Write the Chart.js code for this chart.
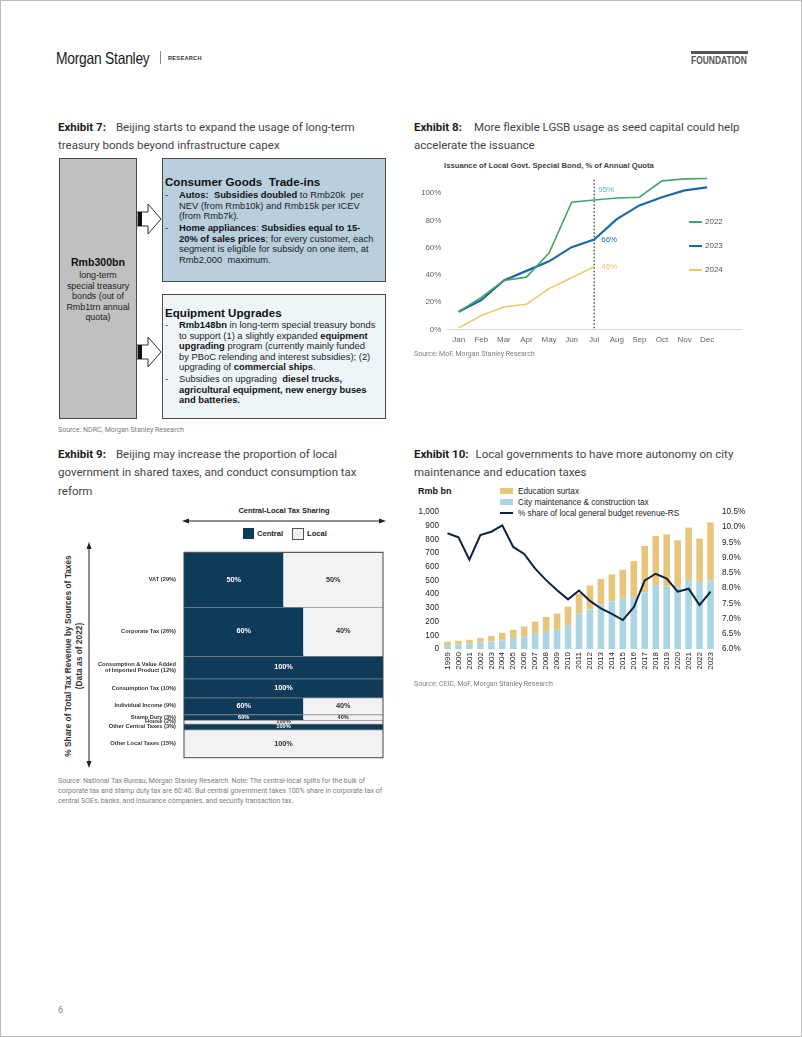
<!DOCTYPE html>
<html>
<head>
<meta charset="utf-8">
<script src="https://cdn.jsdelivr.net/npm/chart.js@4.4.1/dist/chart.umd.min.js"></script>
<style>
html, body { margin: 0; padding: 0; background: #fff; }
#page { position: relative; width: 802px; height: 1037px; border: 1px solid #bdbdbd; box-sizing: border-box; overflow: hidden; font-family: Arial, "Liberation Sans", sans-serif; color: #222; }
.abs { position: absolute; }
.title { font-family: Roboto, "Liberation Sans", sans-serif; font-size: 11.5px; line-height: 18.8px; color: #444; white-space: nowrap; }
.title b { color: #1d1d1d; font-weight: 700; }
.src { font-family: Roboto, "Liberation Sans", sans-serif; font-size: 7px; line-height: 9.8px; color: #7d7d7d; white-space: nowrap; }
.box { position: absolute; box-sizing: border-box; border: 1.5px solid #4a4a4a; }
.boxhead { font-weight: 700; font-size: 11.6px; line-height: 13px; color: #111; white-space: nowrap; }
.bul { position: relative; padding-left: 14px; font-size: 9.4px; line-height: 10.5px; color: #222; white-space: nowrap; }
.bul .dash { position: absolute; left: 0; top: 0; }
.bul b { color: #111; }
.legtxt { font-size: 8px; color: #555; }
.narrow { transform-origin: 0 0; white-space: nowrap; }
canvas { position: absolute; }
</style>
</head>
<body>
<div id="page">
  <!-- header -->
  <div class="abs narrow" style="left:55px;top:48px;font-size:16.5px;letter-spacing:-0.3px;color:#1a1a1a;transform:scaleX(0.84);">Morgan Stanley</div>
  <div class="abs" style="left:159px;top:50px;width:1px;height:13px;background:#888;"></div>
  <div class="abs" style="left:167px;top:54px;font-size:5.6px;font-weight:700;letter-spacing:0.3px;color:#333;">RESEARCH</div>
  <div class="abs" style="left:690px;top:50px;width:57px;height:2.5px;background:#555;"></div>
  <div class="abs narrow" style="left:690px;top:54px;font-weight:700;font-size:10.2px;color:#555;transform:scaleX(0.83);">FOUNDATION</div>

  <!-- Exhibit 7 -->
  <div class="abs title" style="left:57px;top:116.5px;"><b style="margin-right:10px;">Exhibit 7:</b>Beijing starts to expand the usage of long-term<br>treasury bonds beyond infrastructure capex</div>
  <div class="box" style="left:58px;top:157px;width:78px;height:261px;background:#c0c0c0;"></div>
  <div class="abs" style="left:58px;top:255px;width:78px;text-align:center;font-size:10.6px;font-weight:700;color:#111;line-height:13px;">Rmb300bn</div>
  <div class="abs" style="left:58px;top:269px;width:78px;text-align:center;font-size:8.9px;line-height:10.5px;color:#222;">long-term<br>special treasury<br>bonds (out of<br>Rmb1trn annual<br>quota)</div>
  <svg class="abs" style="left:134px;top:195px;" width="30" height="180">
    <polygon points="2,16 13,16 13,8 26,23 13,38 13,30 2,30" fill="#fff" stroke="#333" stroke-width="1"/>
    <rect x="3" y="16" width="4" height="14" fill="#111"/>
    <polygon points="2,149 13,149 13,141 26,156 13,171 13,163 2,163" fill="#fff" stroke="#333" stroke-width="1"/>
    <rect x="3" y="149" width="4" height="14" fill="#111"/>
  </svg>
  <div class="box" style="left:161px;top:157px;width:224px;height:124px;background:#b9cfde;padding:16px 0 0 2px;">
    <div class="boxhead">Consumer Goods&nbsp; Trade-ins</div>
    <div class="bul" style="margin-top:2px;"><span class="dash">-</span>
      <b>Autos:&nbsp; Subsidies doubled</b> to Rmb20k&nbsp; per<br>NEV (from Rmb10k) and Rmb15k per ICEV<br>(from Rmb7k).</div>
    <div class="bul" style="margin-top:1.5px;"><span class="dash">-</span>
      <b>Home appliances</b>: <b>Subsidies equal to 15-</b><br><b>20% of sales prices</b>; for every customer, each<br>segment is eligible for subsidy on one item, at<br>Rmb2,000&nbsp; maximum.</div>
  </div>
  <div class="box" style="left:161px;top:293px;width:224px;height:125px;background:#eef5f9;padding:11px 0 0 2px;">
    <div class="boxhead">Equipment Upgrades</div>
    <div class="bul" style="margin-top:1px;"><span class="dash">-</span>
      <b>Rmb148bn</b> in long-term special treasury bonds<br>to support (1) a slightly expanded <b>equipment</b><br><b>upgrading</b> program (currently mainly funded<br>by PBoC relending and interest subsidies); (2)<br>upgrading of <b>commercial ships</b>.</div>
    <div class="bul" style="margin-top:1.5px;"><span class="dash">-</span>
      Subsidies on upgrading&nbsp; <b>diesel trucks,</b><br><b>agricultural equipment, new energy buses</b><br><b>and batteries.</b></div>
  </div>
  <div class="abs src" style="left:57px;top:425px;">Source: NDRC, Morgan Stanley Research</div>

  <!-- Exhibit 8 -->
  <div class="abs title" style="left:413px;top:116.5px;"><b style="margin-right:12px;">Exhibit 8:</b>More flexible LGSB usage as seed capital could help<br>accelerate the issuance</div>
  <div class="abs" style="left:443px;top:160px;font-size:7.7px;font-weight:700;color:#444;white-space:nowrap;">Issuance of Local Govt. Special Bond, % of Annual Quota</div>
  <canvas id="chart8" width="345" height="185" style="left:405px;top:165px;"></canvas>
  <div class="abs" style="left:688px;top:220px;width:13px;height:1.6px;background:#45a466;"></div>
  <div class="abs legtxt" style="left:704px;top:215.5px;">2022</div>
  <div class="abs" style="left:688px;top:244px;width:13px;height:2.2px;background:#1c69a6;"></div>
  <div class="abs legtxt" style="left:704px;top:239.5px;">2023</div>
  <div class="abs" style="left:688px;top:268px;width:13px;height:1.6px;background:#f0c86c;"></div>
  <div class="abs legtxt" style="left:704px;top:263.5px;">2024</div>
  <div class="abs src" style="left:413px;top:349px;">Source: MoF, Morgan Stanley Research</div>

  <!-- Exhibit 9 -->
  <div class="abs title" style="left:57px;top:443.5px;"><b style="margin-right:10px;">Exhibit 9:</b>Beijing may increase the proportion of local<br>government in shared taxes, and conduct consumption tax<br>reform</div>
  <div class="abs" style="left:183px;top:505px;width:200px;text-align:center;font-size:7.4px;font-weight:700;color:#222;">Central-Local Tax Sharing</div>
  <svg class="abs" style="left:180px;top:515px;" width="206" height="10">
    <line x1="5" y1="5" x2="201" y2="5" stroke="#222" stroke-width="1"/>
    <polygon points="1,5 8,2.5 8,7.5" fill="#222"/>
    <polygon points="205,5 198,2.5 198,7.5" fill="#222"/>
  </svg>
  <div class="abs" style="left:242px;top:527px;width:11px;height:11px;background:#0e3b5a;"></div>
  <div class="abs" style="left:256px;top:527.5px;font-size:7.6px;font-weight:700;color:#222;">Central</div>
  <div class="abs" style="left:291px;top:527px;width:10px;height:10px;background:#f2f2f2;border:0.8px solid #555;"></div>
  <div class="abs" style="left:306px;top:527.5px;font-size:7.6px;font-weight:700;color:#222;">Local</div>
  <svg class="abs" style="left:83px;top:540px;" width="10" height="228">
    <line x1="5" y1="6" x2="5" y2="222" stroke="#222" stroke-width="1"/>
    <polygon points="5,1 2.5,8 7.5,8" fill="#222"/>
    <polygon points="5,227 2.5,220 7.5,220" fill="#222"/>
  </svg>
  <div class="abs" style="left:72px;top:655px;width:0;height:0;">
    <div style="position:absolute;left:0;top:0;transform:translate(-50%,-50%) rotate(-90deg);white-space:nowrap;text-align:center;font-size:8.4px;font-weight:700;color:#333;line-height:10.5px;">% Share of Total Tax Revenue by Sources of Taxes<br>(Data as of 2022)</div>
  </div>
  <canvas id="chart9" width="340" height="228" style="left:50px;top:540px;"></canvas>
  <div class="abs src" style="left:57px;top:776px;">Source: National Tax Bureau, Morgan Stanley Research. Note: The central-local splits for the bulk of<br>corporate tax and stamp duty tax are 60:40. But central government takes 100% share in corporate tax of<br>central SOEs, banks, and insurance companies, and security transaction tax.</div>

  <!-- Exhibit 10 -->
  <div class="abs title" style="left:413px;top:443.5px;"><b style="margin-right:7px;">Exhibit 10:</b>Local governments to have more autonomy on city<br>maintenance and education taxes</div>
  <div class="abs" style="left:417px;top:485px;font-size:9px;font-weight:700;color:#111;">Rmb bn</div>
  <div class="abs" style="left:499px;top:487px;width:13px;height:6px;background:#e9c57c;"></div>
  <div class="abs" style="left:517px;top:485.5px;font-size:8.2px;color:#222;">Education surtax</div>
  <div class="abs" style="left:499px;top:498px;width:13px;height:6px;background:#a9d6e2;"></div>
  <div class="abs" style="left:517px;top:496.5px;font-size:8.2px;color:#222;">City maintenance &amp; construction tax</div>
  <div class="abs" style="left:499px;top:510.5px;width:13px;height:2px;background:#0c2340;"></div>
  <div class="abs" style="left:517px;top:507.5px;font-size:8.2px;color:#222;">% share of local general budget revenue-RS</div>
  <canvas id="chart10" width="346" height="184" style="left:405px;top:500px;"></canvas>
  <div class="abs src" style="left:413px;top:679px;">Source: CEIC, MoF, Morgan Stanley Research</div>

  <div class="abs" style="left:57px;top:1004px;font-size:9px;color:#888;font-family:Roboto,sans-serif;">6</div>
</div>

<script>
// Exhibit 8 - issuance of local govt special bonds, % of annual quota
const months = ['Jan', 'Feb', 'Mar', 'Apr', 'May', 'Jun', 'Jul', 'Aug', 'Sep', 'Oct', 'Nov', 'Dec', ''];
const quota2022 = [13, 23.5, 36, 38.4, 56, 93.3, 95, 96.4, 97, 109, 110.5, 110.8];
const quota2023 = [13, 21.6, 36, 43, 50, 60.4, 66, 81, 91, 97, 102, 104.3];
const quota2024 = [1.2, 10.3, 16.5, 18.5, 30, 38, 46];
const quotaTicks = [0, 20, 40, 60, 80, 100];
const markIndex = 6; // Jul

// Exhibit 9 - central/local tax sharing
const taxNames = ['VAT (29%)', 'Corporate Tax (26%)', ['Consumption & Value Added', 'of Imported Product (12%)'],
    'Consumption Tax (10%)', 'Individual Income (9%)', 'Stamp Duty (3%)', 'House (2%)',
    'Other Central Taxes (3%)', 'Other Local Taxes (15%)'];
const taxShares = [29, 26, 12, 10, 9, 3, 2, 3, 15];
const centralSplit = [50, 60, 100, 100, 60, 60, 0, 100, 0];

// Exhibit 10 - city maintenance & education taxes
const years = ['1999', '2000', '2001', '2002', '2003', '2004', '2005', '2006', '2007', '2008', '2009', '2010', '2011',
    '2012', '2013', '2014', '2015', '2016', '2017', '2018', '2019', '2020', '2021', '2022', '2023'];
const cityTax = [29, 31, 39, 48, 55, 63, 80, 92, 113, 125, 140, 173, 258, 289, 325, 347, 369, 381, 414, 463, 455, 450, 501, 489, 499];
const eduSurtax = [24, 29, 28, 32, 39, 55, 60, 72, 87, 109, 118, 135, 144, 174, 186, 198, 209, 260, 338, 361, 381, 343, 385, 316, 424];
const localShare = [9.80, 9.67, 8.93, 9.74, 9.85, 10.06, 9.35, 9.12, 8.64, 8.26, 7.93, 7.63, 7.92, 7.58, 7.33, 7.15, 6.95, 7.37, 8.25, 8.47, 8.31, 7.88, 7.98, 7.44, 7.88];

Chart.defaults.font.family = 'Arial, "Liberation Sans", sans-serif';
Chart.defaults.animation = false;
Chart.defaults.plugins.legend.display = false;
Chart.defaults.plugins.tooltip.enabled = false;

// ---------- Exhibit 8 ----------
const markColors = ['#5aaed8', '#1c69a6', '#efc46a'];
const markOffsets = [[4, -10], [7, 0], [7, 0]];

const julMarker = {
    id: 'julMarker',
    beforeDatasetsDraw(chart) {
        const {ctx, chartArea, scales: {x}} = chart;
        const px = x.getPixelForValue(markIndex);
        ctx.save();
        ctx.strokeStyle = '#555';
        ctx.lineWidth = 1.5;
        ctx.setLineDash([1.5, 2]);
        ctx.beginPath();
        ctx.moveTo(px, chartArea.top + 3);
        ctx.lineTo(px, chartArea.bottom);
        ctx.stroke();
        ctx.restore();
    },
    afterDatasetsDraw(chart) {
        const {ctx} = chart;
        ctx.save();
        ctx.font = '8px Arial, "Liberation Sans", sans-serif';
        ctx.textAlign = 'left';
        ctx.textBaseline = 'middle';
        chart.data.datasets.forEach((ds, i) => {
            const pt = chart.getDatasetMeta(i).data[markIndex];
            if (!pt) return;
            ctx.fillStyle = markColors[i];
            ctx.fillText(Math.round(ds.data[markIndex]) + '%', pt.x + markOffsets[i][0], pt.y + markOffsets[i][1]);
        });
        ctx.restore();
    }
};

new Chart(document.getElementById('chart8'), {
    type: 'line',
    data: {
        labels: months,
        datasets: [{
            label: '2022', data: quota2022, borderColor: '#45a466', borderWidth: 1.6, pointRadius: 0, tension: 0
        }, {
            label: '2023', data: quota2023, borderColor: '#1c69a6', borderWidth: 2.2, pointRadius: 0, tension: 0
        }, {
            label: '2024', data: quota2024, borderColor: '#f0c86c', borderWidth: 1.6, pointRadius: 0, tension: 0
        }]
    },
    options: {
        responsive: false,
        events: [],
        layout: {padding: {top: 8, right: 10, bottom: 0, left: 0}},
        scales: {
            x: {
                offset: true,
                grid: {display: false, drawTicks: false},
                border: {color: '#d9d9d9', width: 1},
                ticks: {color: '#666', font: {size: 8}, padding: 5, autoSkip: false, maxRotation: 0},
                afterFit: scale => { scale.height = 21.5; }
            },
            y: {
                min: 0,
                max: 112,
                grid: {display: false, drawTicks: false},
                border: {display: false},
                afterBuildTicks: scale => { scale.ticks = quotaTicks.map(v => ({value: v})); },
                ticks: {color: '#666', font: {size: 8}, padding: 6, callback: v => v + '%'},
                afterFit: scale => { scale.width = 41.4; }
            }
        }
    },
    plugins: [julMarker]
});

// ---------- Exhibit 9 ----------
const taxTops = [];
taxShares.reduce((acc, s) => { taxTops.push(acc); return acc + s; }, 0);
const taxTotal = taxShares.reduce((a, b) => a + b, 0);
const taxCenters = taxTops.map((t, i) => t + taxShares[i] / 2);

const taxRects = [];
taxShares.forEach((share, i) => {
    const top = taxTops[i];
    const c = centralSplit[i];
    if (c > 0) taxRects.push({x0: 0, x1: c, top: top, bottom: top + share, central: true, row: i});
    if (c < 100) taxRects.push({x0: c, x1: 100, top: top, bottom: top + share, central: false, row: i});
});

const mosaicLabels = {
    id: 'mosaicLabels',
    afterDatasetsDraw(chart) {
        const {ctx, chartArea, scales: {x, y}} = chart;
        ctx.save();
        ctx.textAlign = 'center';
        ctx.textBaseline = 'middle';
        taxRects.forEach(r => {
            const share = r.bottom - r.top;
            ctx.font = 'bold ' + (share >= 9 ? 7.3 : 5.6) + 'px Arial, "Liberation Sans", sans-serif';
            ctx.fillStyle = r.central ? '#ffffff' : '#333333';
            const pct = r.x1 - r.x0;
            ctx.fillText(pct + '%', x.getPixelForValue((r.x0 + r.x1) / 2), y.getPixelForValue((r.top + r.bottom) / 2));
        });
        ctx.strokeStyle = '#444';
        ctx.lineWidth = 1;
        ctx.strokeRect(chartArea.left, chartArea.top, chartArea.right - chartArea.left, chartArea.bottom - chartArea.top);
        ctx.restore();
    }
};

new Chart(document.getElementById('chart9'), {
    type: 'line',
    data: {
        datasets: taxRects.map(r => ({
            data: [{x: r.x0, y: r.top}, {x: r.x1, y: r.top}],
            fill: {value: r.bottom},
            backgroundColor: r.central ? '#0e3b5a' : '#f2f2f2',
            borderColor: '#8e8e8e',
            borderWidth: 1.6,
            pointRadius: 0
        }))
    },
    options: {
        responsive: false,
        events: [],
        layout: {padding: {top: 5, right: 8, bottom: 5, left: 0}},
        scales: {
            x: {type: 'linear', min: 0, max: 100, display: false},
            y: {
                type: 'linear',
                min: 0,
                max: taxTotal,
                reverse: true,
                grid: {display: false, drawTicks: false},
                border: {display: false},
                afterBuildTicks: scale => { scale.ticks = taxCenters.map(v => ({value: v})); },
                ticks: {
                    autoSkip: false,
                    padding: 8,
                    color: '#333',
                    font: {size: 5.7, weight: 'bold', lineHeight: 1.15},
                    callback: v => taxNames[taxCenters.indexOf(v)]
                },
                afterFit: scale => { scale.width = 133; }
            }
        }
    },
    plugins: [mosaicLabels]
});

// ---------- Exhibit 10 ----------
new Chart(document.getElementById('chart10'), {
    type: 'bar',
    data: {
        labels: years,
        datasets: [{
            type: 'line',
            label: '% share of local general budget revenue-RS',
            data: localShare,
            yAxisID: 'y1',
            borderColor: '#0c2340',
            borderWidth: 2,
            pointRadius: 0,
            tension: 0,
            order: 0
        }, {
            label: 'City maintenance & construction tax',
            data: cityTax,
            backgroundColor: '#a9d6e2',
            yAxisID: 'y',
            stack: 'tax',
            order: 1
        }, {
            label: 'Education surtax',
            data: eduSurtax,
            backgroundColor: '#e9c57c',
            yAxisID: 'y',
            stack: 'tax',
            order: 1
        }]
    },
    options: {
        responsive: false,
        events: [],
        layout: {padding: {top: 9, right: 0, bottom: 0, left: 0}},
        datasets: {bar: {categoryPercentage: 0.6, barPercentage: 1}},
        scales: {
            x: {
                stacked: true,
                grid: {display: false, drawTicks: false},
                border: {display: false},
                ticks: {color: '#222', font: {size: 8}, padding: 3, autoSkip: false, minRotation: 90, maxRotation: 90},
                afterFit: scale => { scale.height = 36; }
            },
            y: {
                stacked: true,
                position: 'left',
                min: 0,
                max: 1000,
                grid: {display: false, drawTicks: false},
                border: {display: false},
                ticks: {stepSize: 100, color: '#222', font: {size: 8.2}, padding: 3, callback: v => v.toLocaleString('en-US')},
                afterFit: scale => { scale.width = 36; }
            },
            y1: {
                position: 'right',
                min: 6,
                max: 10.5,
                grid: {display: false, drawTicks: false},
                border: {display: false},
                ticks: {stepSize: 0.5, color: '#222', font: {size: 8.2}, padding: 6, callback: v => v.toFixed(1) + '%'},
                afterFit: scale => { scale.width = 36; }
            }
        }
    }
});
</script>
</body>
</html>
